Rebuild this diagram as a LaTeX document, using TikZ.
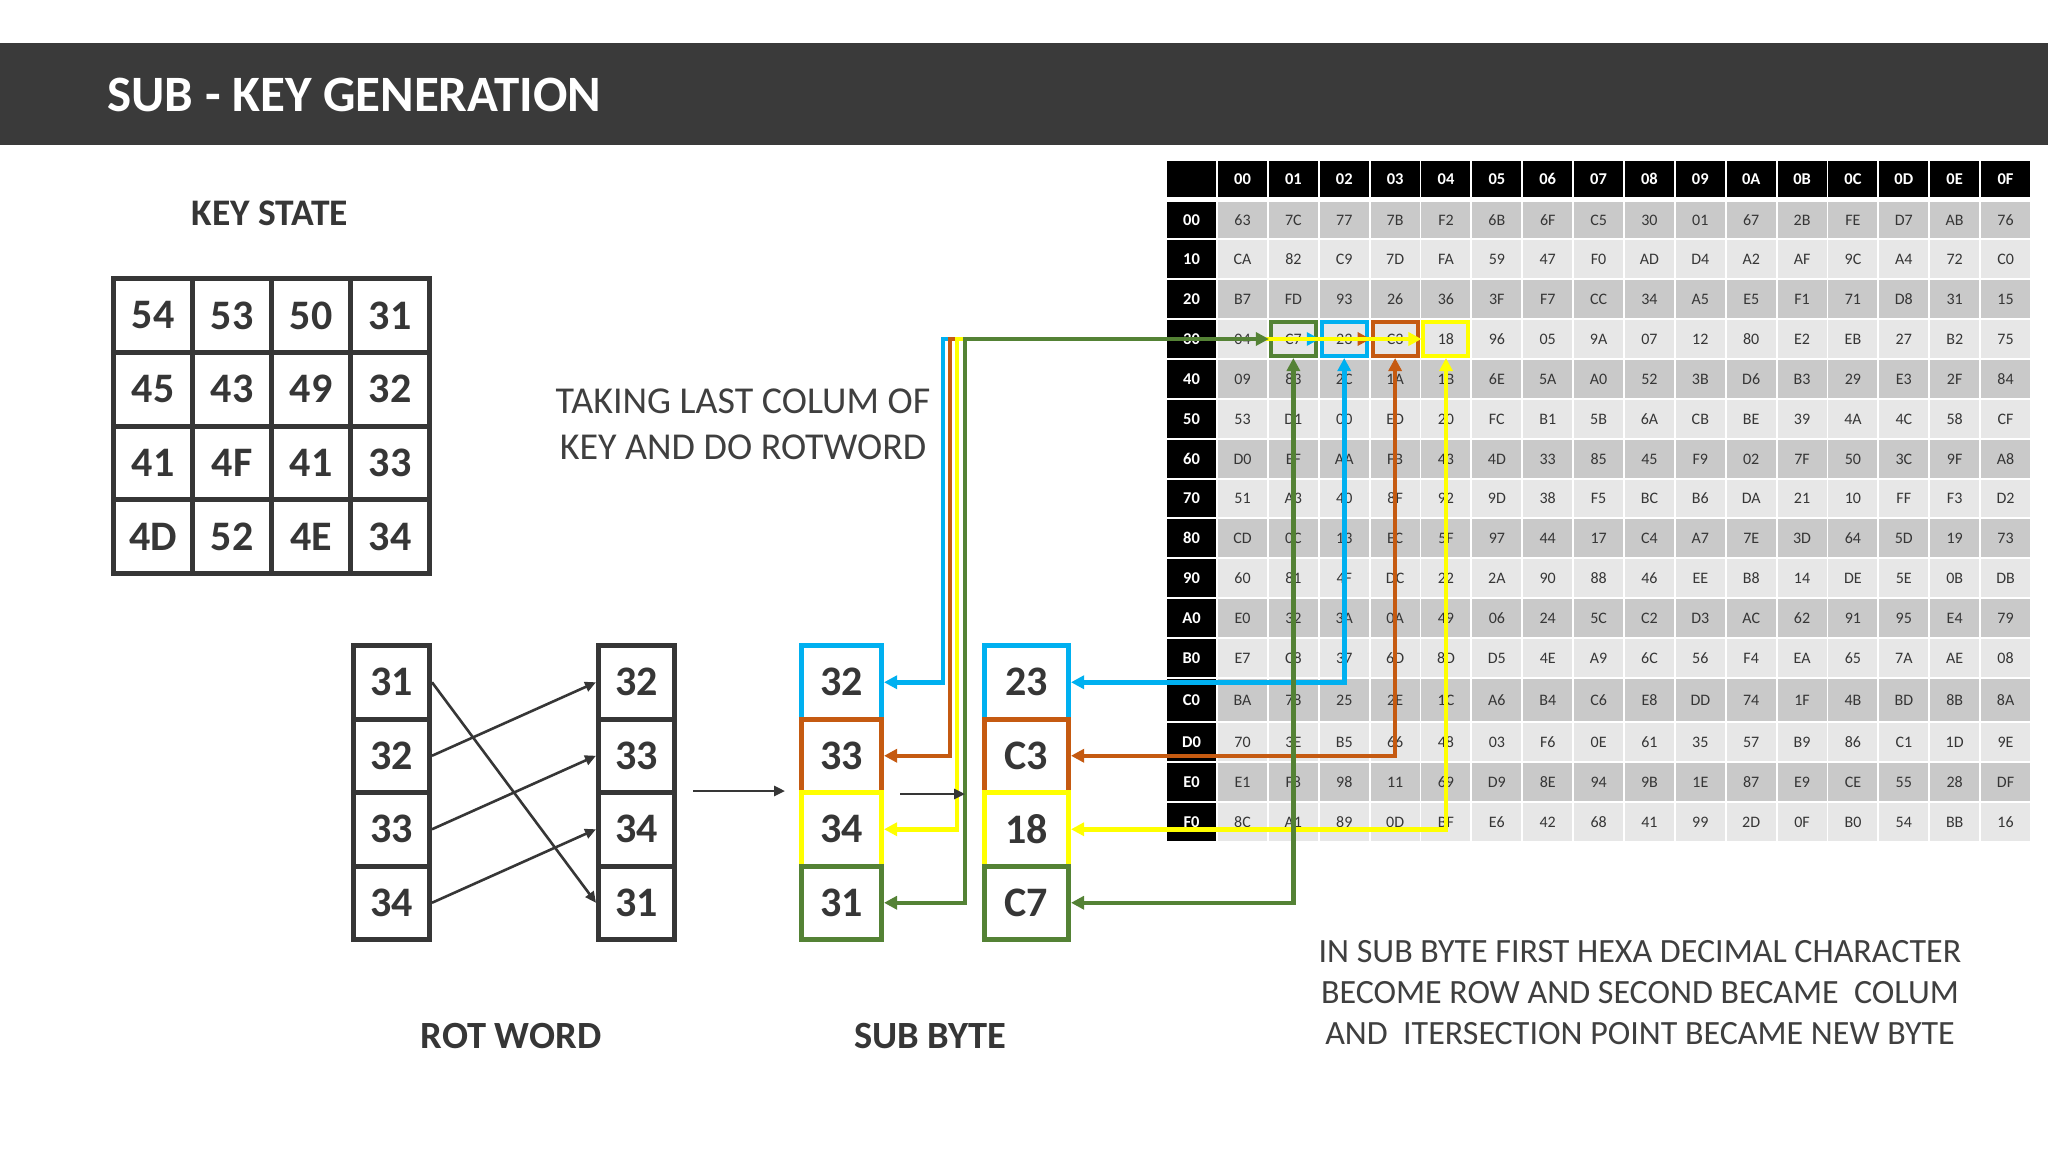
\documentclass[tikz,border=0pt]{standalone}
\usepackage{fontspec}
\setmainfont{Carlito}
\usetikzlibrary{arrows.meta}
\definecolor{bar}{HTML}{3A3A3A}
\definecolor{ink}{HTML}{363636}
\definecolor{txt}{HTML}{3F3F3F}
\definecolor{cblue}{HTML}{00B0F0}
\definecolor{corange}{HTML}{C55A11}
\definecolor{cyellow}{HTML}{FFFF00}
\definecolor{cgreen}{HTML}{548235}
\definecolor{celldark}{HTML}{C9C9C9}
\definecolor{celllight}{HTML}{E7E7E7}
\begin{document}
\begin{tikzpicture}[x=1pt,y=-1pt,
  keybox/.style={draw=ink, line width=5pt, minimum width=79pt, minimum height=73.75pt, inner sep=0pt, text=ink, font=\bfseries\fontsize{42}{48}\selectfont},
  rotbox/.style={draw=ink, line width=5pt, minimum width=76pt, minimum height=73.5pt, inner sep=0pt, text=ink, font=\bfseries\fontsize{42}{48}\selectfont},
  subbox/.style={line width=5pt, minimum height=73.5pt, inner sep=0pt, text=ink, font=\bfseries\fontsize{42}{48}\selectfont},
  cellbox/.style={minimum width=49pt, inner sep=0pt, text=ink, font=\fontsize{16}{18}\selectfont},
  hdrbox/.style={fill=black, minimum width=49pt, inner sep=0pt, text=white, font=\bfseries\fontsize{16.5}{18}\selectfont},
  hlbox/.style={line width=4pt, minimum width=45pt, minimum height=34pt, inner sep=0pt},
  cline/.style={line width=4.5pt, <->, >={Triangle[length=13pt,width=13pt]}},
  thinarrow/.style={draw=ink, line width=2.6pt, ->, >={Triangle[length=11pt,width=10pt]}},
  label/.style={text=ink, font=\bfseries\fontsize{38.5}{42}\selectfont}
]
\useasboundingbox (0,0) rectangle (2048,1152);
\fill[white] (0,0) rectangle (2048,1152);
% title bar
\fill[bar] (0,43) rectangle (2048,145);
\node[anchor=west, text=white, font=\bfseries\fontsize{51}{60}\selectfont] (title) at (104,95) {SUB - KEY GENERATION};

% key state
\node[text=ink, font=\bfseries\fontsize{37.5}{42}\selectfont] (kslabel) at (270,213) {KEY STATE};
\foreach \v [count=\i from 0] in {54,53,50,31,45,43,49,32,41,4F,41,33,4D,52,4E,34} {
  \pgfmathtruncatemacro\rr{floor(\i/4)}
  \pgfmathtruncatemacro\cc{mod(\i,4)}
  \node[keybox] (k\rr-\cc) at ({153+79*\cc},{315.4+73.75*\rr}) {\v};
}

% rot word
\foreach \v [count=\i] in {31,32,33,34} {
  \node[rotbox] (rl\i) at (391.5,{608.75+73.5*\i}) {\v};
}
\foreach \v [count=\i] in {32,33,34,31} {
  \node[rotbox] (rr\i) at (636.5,{608.75+73.5*\i}) {\v};
}
\draw[thinarrow] (rl1.east) -- (rr4.west);
\draw[thinarrow] (rl2.east) -- (rr1.west);
\draw[thinarrow] (rl3.east) -- (rr2.west);
\draw[thinarrow] (rl4.east) -- (rr3.west);
\node[label] (rotlabel) at (511,1036) {ROT WORD};

% sub byte boxes
\foreach \v/\col [count=\i] in {32/cblue,33/corange,34/cyellow,31/cgreen} {
  \node[subbox, draw=\col, minimum width=80pt] (lb\i) at (841.5,{608.75+73.5*\i}) {\v};
}
\foreach \v/\col [count=\i] in {23/cblue,C3/corange,18/cyellow,C7/cgreen} {
  \node[subbox, draw=\col, minimum width=84pt] (rb\i) at (1026.5,{608.75+73.5*\i}) {\v};
}
\node[label] (sblabel) at (930,1036) {SUB BYTE};

% texts
\node[text=txt, align=center, font=\fontsize{38}{46}\selectfont] (note1) at (743,424) {TAKING LAST COLUM OF\\KEY AND DO ROTWORD};
\node[text=txt, align=center, font=\fontsize{34}{41}\selectfont] (note2) at (1640,993) {IN SUB BYTE FIRST HEXA DECIMAL CHARACTER\\BECOME ROW AND SECOND BECAME\ \ COLUM\\AND\ \ ITERSECTION POINT BECAME NEW BYTE};

% S-box header
\node[hdrbox, minimum height=36pt] (corner) at (1191.5,179) {};
\foreach \lab [count=\c from 0] in {00,01,02,03,04,05,06,07,08,09,0A,0B,0C,0D,0E,0F} {
  \node[hdrbox, minimum height=36pt] (hd\c) at ({1242.5+50.87*\c},179) {\lab};
}
% S-box body
\foreach \r/\yc/\h/\lab/\row in {
0/220/36/00/{63,7C,77,7B,F2,6B,6F,C5,30,01,67,2B,FE,D7,AB,76},
1/259/38/10/{CA,82,C9,7D,FA,59,47,F0,AD,D4,A2,AF,9C,A4,72,C0},
2/299/38/20/{B7,FD,93,26,36,3F,F7,CC,34,A5,E5,F1,71,D8,31,15},
3/339/38/30/{04,C7,23,C3,18,96,05,9A,07,12,80,E2,EB,27,B2,75},
4/379/38/40/{09,83,2C,1A,1B,6E,5A,A0,52,3B,D6,B3,29,E3,2F,84},
5/419/38/50/{53,D1,00,ED,20,FC,B1,5B,6A,CB,BE,39,4A,4C,58,CF},
6/459/38/60/{D0,EF,AA,FB,43,4D,33,85,45,F9,02,7F,50,3C,9F,A8},
7/498.5/37/70/{51,A3,40,8F,92,9D,38,F5,BC,B6,DA,21,10,FF,F3,D2},
8/538/38/80/{CD,0C,13,EC,5F,97,44,17,C4,A7,7E,3D,64,5D,19,73},
9/578/38/90/{60,81,4F,DC,22,2A,90,88,46,EE,B8,14,DE,5E,0B,DB},
10/618/38/A0/{E0,32,3A,0A,49,06,24,5C,C2,D3,AC,62,91,95,E4,79},
11/658/38/B0/{E7,C8,37,6D,8D,D5,4E,A9,6C,56,F4,EA,65,7A,AE,08},
12/700/42/C0/{BA,78,25,2E,1C,A6,B4,C6,E8,DD,74,1F,4B,BD,8B,8A},
13/742/38/D0/{70,3E,B5,66,48,03,F6,0E,61,35,57,B9,86,C1,1D,9E},
14/782/38/E0/{E1,F8,98,11,69,D9,8E,94,9B,1E,87,E9,CE,55,28,DF},
15/822/38/F0/{8C,A1,89,0D,BF,E6,42,68,41,99,2D,0F,B0,54,BB,16}} {
  \ifodd\r \def\cf{celllight}\else\def\cf{celldark}\fi
  \node[hdrbox, minimum height=\h] (rl-\r) at (1191.5,\yc) {\lab};
  \foreach \v [count=\c from 0] in \row {
    \node[cellbox, fill=\cf, minimum height=\h] (s\r-\c) at ({1242.5+50.87*\c},\yc) {\v};
  }
}
% highlight boxes
\node[hlbox, draw=cgreen] (hG) at (s3-1) {};
\node[hlbox, draw=cblue] (hB) at (s3-2) {};
\node[hlbox, draw=corange] (hO) at (s3-3) {};
\node[hlbox, draw=cyellow] (hY) at (s3-4) {};

% junction coordinates
\coordinate (jB) at (943,339);
\coordinate (jO) at (950,339);
\coordinate (jY) at (957,339);
\coordinate (jG) at (965,339);

% connectors
\draw[cline, draw=cblue] (lb1.east) -| (jB) -- (hB.west);
\draw[cline, draw=cblue] (hB.south) |- (rb1.east);
\draw[cline, draw=corange] (lb2.east) -| (jO) -- (hO.west);
\draw[cline, draw=corange] (hO.south) |- (rb2.east);
\draw[cline, draw=cyellow] (lb3.east) -| (jY) -- (hY.west);
\draw[cline, draw=cyellow] (hY.south) |- (rb3.east);
\draw[cline, draw=cgreen] (lb4.east) -| (jG) -- (hG.west);
\draw[cline, draw=cgreen] (hG.south) |- (rb4.east);

% process arrows
\coordinate (a1s) at (693,791);
\coordinate (a1e) at (785,791);
\coordinate (a2s) at (900,794);
\coordinate (a2e) at (965,794);
\draw[thinarrow] (a1s) -- (a1e);
\draw[thinarrow] (a2s) -- (a2e);
\end{tikzpicture}
\end{document}
